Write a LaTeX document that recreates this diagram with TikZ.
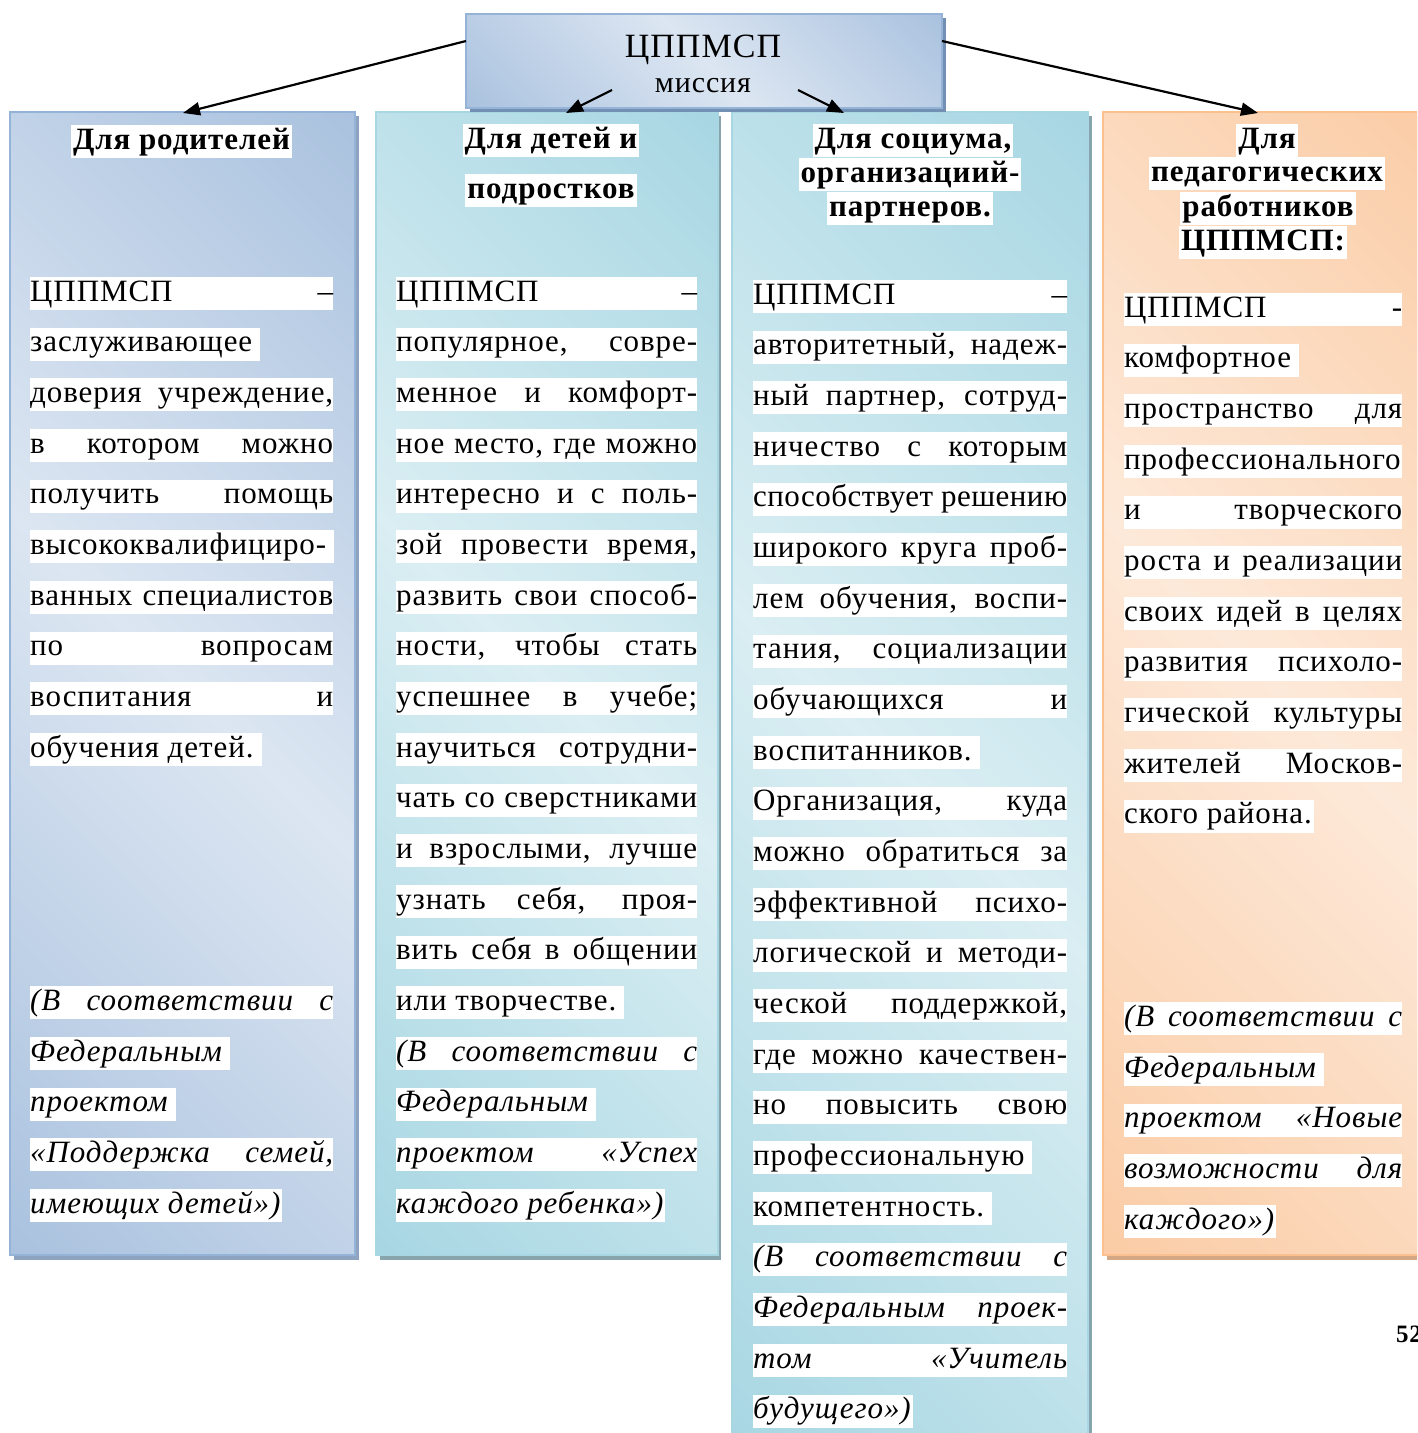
\documentclass[tikz,border=0pt]{standalone}
\usepackage{fontspec}
\setmainfont{Liberation Serif}[LetterSpace=3]
\usetikzlibrary{arrows.meta}
\definecolor{blueD}{HTML}{95B3D7}
\definecolor{blueL}{HTML}{DCE6F2}
\definecolor{tealD}{HTML}{92CDDC}
\definecolor{tealL}{HTML}{DAEEF3}
\definecolor{orD}{HTML}{FAC090}
\definecolor{orL}{HTML}{FDE9D9}
\definecolor{shB}{HTML}{8EA3BF}
\definecolor{shT}{HTML}{88A5AE}
\definecolor{shO}{HTML}{D4A885}
\definecolor{shTop}{HTML}{7290B3}
\pgfdeclarehorizontalshading{gradB}{100bp}{color(0bp)=(blueD); color(50bp)=(blueL); color(100bp)=(blueD)}
\pgfdeclarehorizontalshading{gradT}{100bp}{color(0bp)=(tealD); color(50bp)=(tealL); color(100bp)=(tealD)}
\pgfdeclarehorizontalshading{gradO}{100bp}{color(0bp)=(orD); color(50bp)=(orL); color(100bp)=(orD)}
\newcommand{\J}[2]{\makebox[#1pt][s]{#2}}
\newcommand{\T}{\hspace*{8pt}}
\newcommand{\Tt}{\hspace*{2pt}}
\newcommand{\Lc}[5]{\node[ln] (#1) at (#2,{#3+50.67*#4+24}) {#5};}
\tikzset{
  ln/.style={fill=white, inner sep=0pt, anchor=base west, text height=24pt, text depth=9pt, font=\fontsize{31pt}{33pt}\selectfont},
  hd/.style={fill=white, inner xsep=2pt, inner ysep=0pt, anchor=base, text height=24pt, text depth=9pt, font=\fontsize{31pt}{33pt}\selectfont\bfseries},
  colbox/.style={shade, shading angle=45, inner sep=0pt, line width=1.5pt},
  arr/.style={line width=2.2pt, -{Triangle[length=17pt,width=13pt]}},
}
\begin{document}
\begin{tikzpicture}[x=1pt,y=-1pt]
\useasboundingbox (0,0) rectangle (1417,1433);
\clip (0,0) rectangle (1417,1433);
% shadows
\fill[shB] (14,116) rectangle (359,1260);
\fill[shT] (380,116) rectangle (721,1260);
\fill[shT] (736,116) rectangle (1092,1460);
\fill[shO] (1107,116) rectangle (1450,1260);
% columns
\node[colbox, shading=gradB, draw=blueD, minimum width=345pt, minimum height=1143pt] (c1) at (182.5,683.5) {};
\node[colbox, shading=gradT, draw=tealD!80, minimum width=342pt, minimum height=1143pt] (c2) at (547,683.5) {};
\node[colbox, shading=gradT, draw=tealD!80, minimum width=356pt, minimum height=1340pt] (c3) at (910,782) {};
\node[colbox, shading=gradO, draw=orD, minimum width=342pt, minimum height=1143pt] (c4) at (1274,683.5) {};
% top box
\fill[shTop] (470,18) rectangle (946,112);
\node[colbox, shading=gradB, draw=blueD, minimum width=476pt, minimum height=94pt] (top) at (704,61) {};
\node[inner sep=0pt, anchor=base, font=\fontsize{34pt}{36pt}\selectfont] (t1) at (703,57) {ЦППМСП};
\node[inner sep=0pt, anchor=base, font=\fontsize{30pt}{32pt}\selectfont] (t2) at (703,92) {миссия};
% arrows
\coordinate (a1) at (466,41);
\coordinate (a2) at (942,41);
\coordinate (a3) at (612,90);
\coordinate (a4) at (798,90);
\coordinate (e1) at (183,113);
\coordinate (e2) at (566,113);
\coordinate (e3) at (844,113);
\coordinate (e4) at (1258,113);
\draw[arr] (a1) -- (e1);
\draw[arr] (a3) -- (e2);
\draw[arr] (a4) -- (e3);
\draw[arr] (a2) -- (e4);
% headers
\node[hd] (h1) at (181.5,149) {Для родителей};
\node[hd] (h2a) at (551,148) {Для детей и};
\node[hd] (h2b) at (551,198) {подростков};
\node[hd] (h3a) at (913,148) {Для социума,};
\node[hd] (h3b) at (910,182) {организациий-};
\node[hd] (h3c) at (910,216) {партнеров.};
\node[hd] (h4a) at (1267,148) {Для};
\node[hd] (h4b) at (1267,181) {педагогических};
\node[hd] (h4c) at (1268,216) {работников};
\node[hd] (h4d) at (1263,250) {ЦППМСП:};
% column 1
\Lc{p0}{30}{277}{0}{\J{303}{ЦППМСП –}}
\Lc{p1}{30}{277}{1}{заслуживающее\T}
\Lc{p2}{30}{277}{2}{\J{303}{доверия учреждение,}}
\Lc{p3}{30}{277}{3}{\J{303}{в котором можно}}
\Lc{p4}{30}{277}{4}{\J{303}{получить помощь}}
\Lc{p5}{30}{277}{5}{высококвалифициро-\T}
\Lc{p6}{30}{277}{6}{\J{303}{ванных специалистов}}
\Lc{p7}{30}{277}{7}{\J{303}{по вопросам}}
\Lc{p8}{30}{277}{8}{\J{303}{воспитания и}}
\Lc{p9}{30}{277}{9}{обучения детей.\T}
\Lc{p14}{30}{277}{14}{\itshape\J{303}{(В соответствии с}}
\Lc{p15}{30}{277}{15}{\itshape Федеральным\T}
\Lc{p16}{30}{277}{16}{\itshape проектом\T}
\Lc{p17}{30}{277}{17}{\itshape\J{303}{«Поддержка семей,}}
\Lc{p18}{30}{277}{18}{\itshape имеющих детей»)\Tt}
% column 2
\Lc{d0}{396}{277}{0}{\J{301}{ЦППМСП –}}
\Lc{d1}{396}{277}{1}{\J{301}{популярное, совре-}}
\Lc{d2}{396}{277}{2}{\J{301}{менное и комфорт-}}
\Lc{d3}{396}{277}{3}{\J{301}{ное место, где можно}}
\Lc{d4}{396}{277}{4}{\J{301}{интересно и с поль-}}
\Lc{d5}{396}{277}{5}{\J{301}{зой провести время,}}
\Lc{d6}{396}{277}{6}{\J{301}{развить свои способ-}}
\Lc{d7}{396}{277}{7}{\J{301}{ности, чтобы стать}}
\Lc{d8}{396}{277}{8}{\J{301}{успешнее в учебе;}}
\Lc{d9}{396}{277}{9}{\J{301}{научиться сотрудни-}}
\Lc{d10}{396}{277}{10}{\J{301}{чать со сверстниками}}
\Lc{d11}{396}{277}{11}{\J{301}{и взрослыми, лучше}}
\Lc{d12}{396}{277}{12}{\J{301}{узнать себя, проя-}}
\Lc{d13}{396}{277}{13}{\J{301}{вить себя в общении}}
\Lc{d14}{396}{277}{14}{или творчестве.\T}
\Lc{d15}{396}{277}{15}{\itshape\J{301}{(В соответствии с}}
\Lc{d16}{396}{277}{16}{\itshape Федеральным\T}
\Lc{d17}{396}{277}{17}{\itshape\J{301}{проектом «Успех}}
\Lc{d18}{396}{277}{18}{\itshape каждого ребенка»)\Tt}
% column 3
\Lc{s0}{753}{280}{0}{\J{314}{ЦППМСП –}}
\Lc{s1}{753}{280}{1}{\J{314}{авторитетный, надеж-}}
\Lc{s2}{753}{280}{2}{\J{314}{ный партнер, сотруд-}}
\Lc{s3}{753}{280}{3}{\J{314}{ничество с которым}}
\Lc{s4}{753}{280}{4}{\addfontfeature{LetterSpace=1.5}\J{314}{способствует решению}}
\Lc{s5}{753}{280}{5}{\J{314}{широкого круга проб-}}
\Lc{s6}{753}{280}{6}{\J{314}{лем обучения, воспи-}}
\Lc{s7}{753}{280}{7}{\J{314}{тания, социализации}}
\Lc{s8}{753}{280}{8}{\J{314}{обучающихся и}}
\Lc{s9}{753}{280}{9}{воспитанников.\T}
\Lc{s10}{753}{280}{10}{\J{314}{Организация, куда}}
\Lc{s11}{753}{280}{11}{\J{314}{можно обратиться за}}
\Lc{s12}{753}{280}{12}{\J{314}{эффективной психо-}}
\Lc{s13}{753}{280}{13}{\J{314}{логической и методи-}}
\Lc{s14}{753}{280}{14}{\J{314}{ческой поддержкой,}}
\Lc{s15}{753}{280}{15}{\J{314}{где можно качествен-}}
\Lc{s16}{753}{280}{16}{\J{314}{но повысить свою}}
\Lc{s17}{753}{280}{17}{профессиональную\T}
\Lc{s18}{753}{280}{18}{компетентность.\T}
\Lc{s19}{753}{280}{19}{\itshape\J{314}{(В соответствии с}}
\Lc{s20}{753}{280}{20}{\itshape\J{314}{Федеральным проек-}}
\Lc{s21}{753}{280}{21}{\itshape\J{314}{том «Учитель}}
\Lc{s22}{753}{280}{22}{\itshape будущего»)\Tt}
% column 4
\Lc{w0}{1124}{293}{0}{\J{278}{ЦППМСП -}}
\Lc{w1}{1124}{293}{1}{комфортное\T}
\Lc{w2}{1124}{293}{2}{\J{278}{пространство для}}
\Lc{w3}{1124}{293}{3}{\makebox[278pt][l]{профессионального}}
\Lc{w4}{1124}{293}{4}{\J{278}{и творческого}}
\Lc{w5}{1124}{293}{5}{\J{278}{роста и реализации}}
\Lc{w6}{1124}{293}{6}{\J{278}{своих идей в целях}}
\Lc{w7}{1124}{293}{7}{\J{278}{развития психоло-}}
\Lc{w8}{1124}{293}{8}{\J{278}{гической культуры}}
\Lc{w9}{1124}{293}{9}{\J{278}{жителей Москов-}}
\Lc{w10}{1124}{293}{10}{ского района.\Tt}
\Lc{w14}{1124}{293}{14}{\itshape\J{278}{(В соответствии с}}
\Lc{w15}{1124}{293}{15}{\itshape Федеральным\T}
\Lc{w16}{1124}{293}{16}{\itshape\J{278}{проектом «Новые}}
\Lc{w17}{1124}{293}{17}{\itshape\J{278}{возможности для}}
\Lc{w18}{1124}{293}{18}{\itshape каждого»)\Tt}
% page number
\node[inner sep=0pt, anchor=base west, font=\fontsize{25pt}{27pt}\selectfont\bfseries] (pg) at (1396,1342) {52};
\end{tikzpicture}
\end{document}
